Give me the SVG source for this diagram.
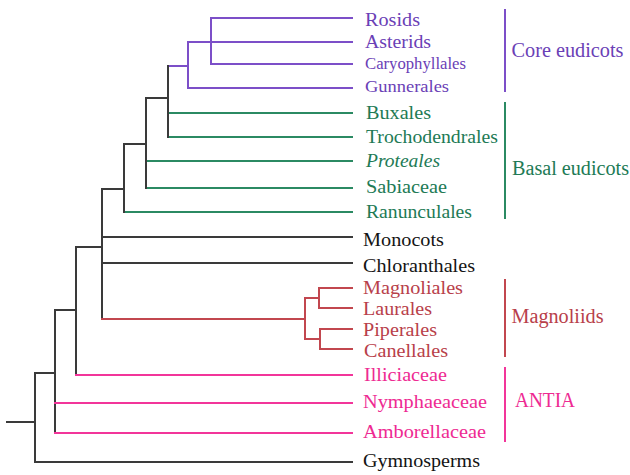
<svg xmlns="http://www.w3.org/2000/svg" width="630" height="475" viewBox="0 0 630 475">
<style>
text{font-family:"Liberation Serif","Times New Roman",serif;font-size:18px}
.e{fill:none;stroke-width:2;stroke-linecap:square}
.k{stroke:#3a3a3a}.p{stroke:#7c4fc8}.g{stroke:#2b8a63}.r{stroke:#c2474f}.m{stroke:#f2359a}
.tk{fill:#141414}.tp{fill:#6a40b6}.tg{fill:#217a55}.tr{fill:#b8404a}.tm{fill:#ee2a92}
.s{font-size:16px}.big{font-size:20px}
</style>
<rect width="630" height="475" fill="#fff"/>
<g id="connectors">
<path class="e p" d="M211,18H352M211,18V64H352M188,42H352M188,42V88H352M168,66H188"/>
<path class="e g" d="M168,113H352M168,137H352M146,161H352M146,188H352M124,212H352"/>
<path class="e k" d="M168,66V137M146,98H168M146,98V188M124,144H146M124,144V212M102,189H124M102,189V319M102,237H352M102,263H352M76,247H102M76,247V375M55,310H76M55,310V433M35,373H55M35,373V462H352M7,422H35"/>
<path class="e r" d="M102,319H305M305,298V339M305,298H319M319,288V308M319,288H352M319,308H352M305,339H320M320,329V349M320,329H352M320,349H352"/>
<path class="e m" d="M76,375H352M55,403H352M55,433H352"/>
</g>
<g id="n-rosids"><text class="tp" x="365" y="26" textLength="55" lengthAdjust="spacingAndGlyphs">Rosids</text></g>
<g id="n-asterids"><text class="tp" x="365" y="47.5" textLength="66" lengthAdjust="spacingAndGlyphs">Asterids</text></g>
<g id="n-caryophyllales"><text class="tp s" x="365" y="68.5" textLength="101" lengthAdjust="spacingAndGlyphs">Caryophyllales</text></g>
<g id="n-gunnerales"><text class="tp s" x="365" y="92" textLength="84" lengthAdjust="spacingAndGlyphs">Gunnerales</text></g>
<g id="n-buxales"><text class="tg" x="366" y="119" textLength="65" lengthAdjust="spacingAndGlyphs">Buxales</text></g>
<g id="n-trochodendrales"><text class="tg" x="366" y="142.7" textLength="132" lengthAdjust="spacingAndGlyphs">Trochodendrales</text></g>
<g id="n-proteales"><text class="tg" x="366" y="166.7" textLength="74" lengthAdjust="spacingAndGlyphs" font-style="italic">Proteales</text></g>
<g id="n-sabiaceae"><text class="tg" x="366" y="193.3" textLength="81" lengthAdjust="spacingAndGlyphs">Sabiaceae</text></g>
<g id="n-ranunculales"><text class="tg" x="366" y="218.3" textLength="106" lengthAdjust="spacingAndGlyphs">Ranunculales</text></g>
<g id="n-monocots"><text class="tk" x="363" y="246" textLength="81" lengthAdjust="spacingAndGlyphs">Monocots</text></g>
<g id="n-chloranthales"><text class="tk" x="363" y="271.7" textLength="112" lengthAdjust="spacingAndGlyphs">Chloranthales</text></g>
<g id="n-magnoliales"><text class="tr" x="363" y="294" textLength="100" lengthAdjust="spacingAndGlyphs">Magnoliales</text></g>
<g id="n-laurales"><text class="tr" x="363" y="315" textLength="69" lengthAdjust="spacingAndGlyphs">Laurales</text></g>
<g id="n-piperales"><text class="tr" x="363" y="335.5" textLength="74" lengthAdjust="spacingAndGlyphs">Piperales</text></g>
<g id="n-canellales"><text class="tr" x="364" y="356.7" textLength="84" lengthAdjust="spacingAndGlyphs">Canellales</text></g>
<g id="n-illiciaceae"><text class="tm" x="364" y="380.7" textLength="83" lengthAdjust="spacingAndGlyphs">Illiciaceae</text></g>
<g id="n-nymphaeaceae"><text class="tm" x="363" y="408.3" textLength="124" lengthAdjust="spacingAndGlyphs">Nymphaeaceae</text></g>
<g id="n-amborellaceae"><text class="tm" x="363" y="438.3" textLength="123" lengthAdjust="spacingAndGlyphs">Amborellaceae</text></g>
<g id="n-gymnosperms"><text class="tk" x="363" y="466.7" textLength="117" lengthAdjust="spacingAndGlyphs">Gymnosperms</text></g>
<g id="g-core-eudicots"><path class="e p" d="M505,10V91"/><text class="tp big" x="511.5" y="57" textLength="112" lengthAdjust="spacingAndGlyphs">Core eudicots</text></g>
<g id="g-basal-eudicots"><path class="e g" d="M505,103V218"/><text class="tg big" x="512" y="175" textLength="117" lengthAdjust="spacingAndGlyphs">Basal eudicots</text></g>
<g id="g-magnoliids"><path class="e r" d="M505,280V356"/><text class="tr big" x="511.5" y="322.5" textLength="92" lengthAdjust="spacingAndGlyphs">Magnoliids</text></g>
<g id="g-antia"><path class="e m" d="M505,368V441"/><text class="tm big" x="515" y="406.7" textLength="60" lengthAdjust="spacingAndGlyphs">ANTIA</text></g>
</svg>
